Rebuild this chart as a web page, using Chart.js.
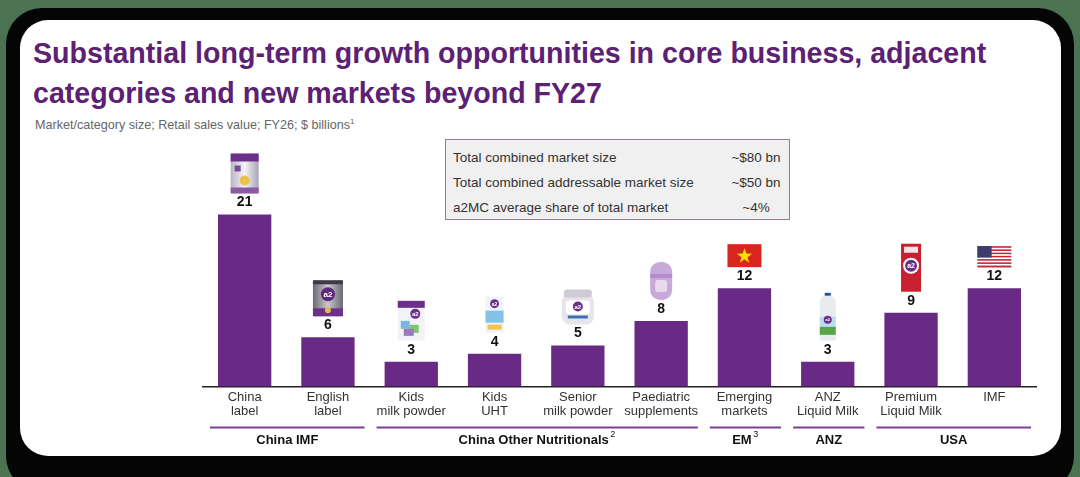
<!DOCTYPE html>
<html>
<head>
<meta charset="utf-8">
<script src="https://cdn.jsdelivr.net/npm/chart.js@4.4.1/dist/chart.umd.min.js"></script>
<style>
body{margin:0;width:1080px;height:477px;background:#4b7352;overflow:hidden;font-family:"Liberation Sans",Arial,sans-serif;position:relative}
.frame{position:absolute;left:6px;top:8px;width:1068px;height:484px;background:#050505;border-radius:36px}
.card{position:absolute;left:20px;top:20px;width:1041px;height:436px;background:#fff;border-radius:28px}
h1{position:absolute;left:33px;top:33px;margin:0;font-size:28.6px;line-height:40px;color:#5c2173;font-weight:bold;white-space:nowrap}
.sub{position:absolute;left:35px;top:117px;font-size:12.6px;color:#666}
.sub sup{font-size:8px}
.box{position:absolute;left:445px;top:139px;width:345px;height:81px;background:#f0f0f0;border:1.5px solid #9a77a8;box-sizing:border-box;font-size:13.5px;color:#333}
.row{position:absolute;left:7px;height:20px;line-height:20px;width:330px}
.row span{position:absolute;left:265px;width:76px;text-align:center}
#wrap{position:absolute;left:0;top:0;width:1080px;height:477px}
</style>
</head>
<body>
<div class="frame"></div>
<div class="card"></div>
<h1>Substantial long-term growth opportunities in core business, adjacent<br>categories and new markets beyond FY27</h1>
<div class="sub">Market/category size; Retail sales value; FY26; $ billions<sup>1</sup></div>
<div class="box">
  <div class="row" style="top:8px">Total combined market size<span>~$80 bn</span></div>
  <div class="row" style="top:33px">Total combined addressable market size<span>~$50 bn</span></div>
  <div class="row" style="top:58px">a2MC average share of total market<span>~4%</span></div>
</div>
<div id="wrap"><canvas id="chart"></canvas></div>
<script>
// categories and values ($ billions)
const categories = [
    ["China", "label"], ["English", "label"], ["Kids", "milk powder"], ["Kids", "UHT"],
    ["Senior", "milk powder"], ["Paediatric", "supplements"], ["Emerging", "markets"],
    ["ANZ", "Liquid Milk"], ["Premium", "Liquid Milk"], ["IMF"]
];
const marketSize = [21, 6, 3, 4, 5, 8, 12, 3, 9, 12];

// groups under the axis (first / last category index)
const groupNames = ["China IMF", "China Other Nutritionals", "EM", "ANZ", "USA"];
const groupNotes = ["", "2", "3", "", ""];
const groupFrom = [0, 2, 6, 7, 8];
const groupTo = [1, 5, 6, 7, 9];

// little product pictures above each bar
const icons = ["canPurple", "canSilver", "canKids", "boxUHT", "tub", "capsule", "flagVN", "bottle", "carton", "flagUS"];

const purple = "#682a85";
const FONT = "'Liberation Sans', Arial, sans-serif";

function rr(ctx, x, y, w, h, r) {
    ctx.beginPath();
    ctx.roundRect(x, y, w, h, r);
}

function star(ctx, cx, cy, r) {
    ctx.beginPath();
    for (let i = 0; i < 10; i++) {
        const a = -Math.PI / 2 + i * Math.PI / 5;
        const rad = i % 2 === 0 ? r : r * 0.4;
        ctx.lineTo(cx + rad * Math.cos(a), cy + rad * Math.sin(a));
    }
    ctx.closePath();
    ctx.fill();
}

function a2Badge(ctx, cx, cy, r, bg, fg) {
    ctx.fillStyle = bg;
    ctx.beginPath(); ctx.arc(cx, cy, r, 0, Math.PI * 2); ctx.fill();
    ctx.fillStyle = fg;
    ctx.font = "bold " + Math.round(r * 1.1) + "px " + FONT;
    ctx.textAlign = "center"; ctx.textBaseline = "middle";
    ctx.fillText("a2", cx, cy + 0.5);
}

// draw one icon; (x, b) = centre x and bottom y
function drawIcon(ctx, type, x, b) {
    ctx.save();
    if (type === "canPurple") {
        const w = 28, h = 40, l = x - w / 2, t = b - h;
        const g = ctx.createLinearGradient(l, 0, l + w, 0);
        g.addColorStop(0, "#b9b4c4"); g.addColorStop(0.5, "#f4f2f6"); g.addColorStop(1, "#a9a3b6");
        ctx.fillStyle = g; rr(ctx, l, t, w, h, 2); ctx.fill();
        ctx.fillStyle = "#6d2f8c"; ctx.fillRect(l, t, w, 8);
        ctx.fillStyle = "#8a5aa3"; ctx.fillRect(l, b - 6, w, 6);
        ctx.fillStyle = "#e9c24a"; ctx.beginPath(); ctx.arc(x, b - 13, 5, 0, Math.PI * 2); ctx.fill();
        ctx.fillStyle = "#7c4a96"; ctx.fillRect(l + 4, t + 12, 6, 6);
    } else if (type === "canSilver") {
        const w = 30, h = 36, l = x - w / 2, t = b - h;
        const g = ctx.createLinearGradient(l, 0, l + w, 0);
        g.addColorStop(0, "#6d6b72"); g.addColorStop(0.5, "#c9c8cc"); g.addColorStop(1, "#6b6970");
        ctx.fillStyle = g; rr(ctx, l, t, w, h, 2); ctx.fill();
        ctx.fillStyle = "#3f3a45"; ctx.fillRect(l, t, w, 4);
        ctx.fillStyle = "#6d2f8c"; ctx.fillRect(l, b - 8, w, 8);
        a2Badge(ctx, x, t + 14, 7, "#5d2a7c", "#fff");
        ctx.fillStyle = "#e1b94a"; ctx.beginPath(); ctx.arc(x, b - 6, 3, 0, Math.PI * 2); ctx.fill();
    } else if (type === "canKids") {
        const w = 27, h = 40, l = x - w / 2, t = b - h;
        ctx.fillStyle = "#f3f2f6"; rr(ctx, l, t, w, h, 2); ctx.fill();
        ctx.fillStyle = "#6d2f8c"; ctx.fillRect(l, t, w, 7);
        ctx.fillStyle = "#79b7e0"; ctx.fillRect(l + 3, t + 20, 9, 8);
        ctx.fillStyle = "#7fc46e"; ctx.fillRect(l + 12, t + 24, 9, 8);
        ctx.fillStyle = "#9a78b9"; ctx.fillRect(l + 6, t + 28, 10, 7);
        a2Badge(ctx, x + 4, t + 13, 5, "#6d2f8c", "#fff");
    } else if (type === "boxUHT") {
        const w = 18, h = 36, l = x - w / 2, t = b - h;
        ctx.fillStyle = "#eef4fa"; ctx.fillRect(l, t, w, h);
        ctx.fillStyle = "#83c1e6"; ctx.fillRect(l, t + 14, w, 12);
        ctx.fillStyle = "#f1c44d"; ctx.fillRect(l + 2, b - 8, w - 4, 5);
        a2Badge(ctx, x, t + 7, 4.5, "#6d2f8c", "#fff");
    } else if (type === "tub") {
        const w = 32, h = 35, l = x - w / 2, t = b - h;
        ctx.fillStyle = "#e7e5ea"; rr(ctx, l, t + 4, w, h - 4, 8); ctx.fill();
        ctx.fillStyle = "#cfcbd6"; rr(ctx, l + 2, t, w - 4, 8, 3); ctx.fill();
        ctx.fillStyle = "#ffffff"; rr(ctx, l + 4, t + 11, w - 8, 14, 4); ctx.fill();
        a2Badge(ctx, x, t + 17, 5, "#6d2f8c", "#fff");
        ctx.fillStyle = "#3c6fb5"; ctx.fillRect(l + 6, t + 26, w - 12, 3);
    } else if (type === "capsule") {
        const w = 22, h = 38, l = x - w / 2, t = b - h;
        ctx.fillStyle = "#c8a9d9"; rr(ctx, l, t, w, h, 10); ctx.fill();
        ctx.fillStyle = "#b48ccb"; ctx.fillRect(l, t + 12, w, 4);
        ctx.fillStyle = "#e8d9f0"; rr(ctx, l + 5, t + 18, w - 10, 12, 3); ctx.fill();
    } else if (type === "flagVN") {
        const w = 34, h = 23, l = x - w / 2, t = b - h;
        ctx.fillStyle = "#d8251d"; ctx.fillRect(l, t, w, h);
        ctx.fillStyle = "#ffdf00"; star(ctx, x, t + h / 2 + 0.5, 8);
    } else if (type === "flagUS") {
        const w = 34, h = 21, l = x - w / 2, t = b - h;
        for (let i = 0; i < 13; i++) {
            ctx.fillStyle = i % 2 === 0 ? "#c3283b" : "#ffffff";
            ctx.fillRect(l, t + i * h / 13, w, h / 13 + 0.3);
        }
        ctx.fillStyle = "#3b3b6d"; ctx.fillRect(l, t, w * 0.42, h * 7 / 13);
    } else if (type === "bottle") {
        const w = 16, h = 48, l = x - w / 2, t = b - h;
        ctx.fillStyle = "#0e5a9c"; ctx.fillRect(x - 3, t, 6, 3);
        ctx.fillStyle = "#e8ecee"; rr(ctx, l, t + 3, w, h - 3, [6, 6, 2, 2]); ctx.fill();
        ctx.fillStyle = "#b9dcef"; ctx.fillRect(l, t + 24, w, 10);
        ctx.fillStyle = "#5aa34a"; ctx.fillRect(l, t + 34, w, 8);
        a2Badge(ctx, x, t + 27, 4, "#6d2f8c", "#fff");
    } else if (type === "carton") {
        const w = 20, h = 48, l = x - w / 2, t = b - h;
        ctx.fillStyle = "#c8202f"; ctx.fillRect(l, t, w, h);
        ctx.fillStyle = "#f1e3e6"; ctx.fillRect(l + 3, t + 3, w - 6, 6);
        ctx.fillStyle = "#fff"; ctx.beginPath(); ctx.arc(x, t + 22, 8, 0, Math.PI * 2); ctx.fill();
        a2Badge(ctx, x, t + 22, 6, "#6d2f8c", "#fff");
    }
    ctx.restore();
}

const topLabels = {
    id: "topLabels",
    afterDatasetsDraw(chart) {
        const ctx = chart.ctx;
        const meta = chart.getDatasetMeta(0);
        meta.data.forEach((bar, i) => {
            const labelY = bar.y - 12;
            ctx.save();
            ctx.fillStyle = "#111";
            ctx.font = "bold 14px " + FONT;
            ctx.textAlign = "center";
            ctx.textBaseline = "middle";
            ctx.fillText(marketSize[i], bar.x, labelY);
            ctx.restore();
            drawIcon(ctx, icons[i], bar.x, labelY - 9);
        });
    }
};

const groupAxis = {
    id: "groupAxis",
    afterDraw(chart) {
        const ctx = chart.ctx;
        const x = chart.scales.x;
        const half = (x.getPixelForValue(1) - x.getPixelForValue(0)) / 2;
        const lineY = chart.chartArea.bottom + 41;
        ctx.save();
        groupNames.forEach((name, g) => {
            const left = x.getPixelForValue(groupFrom[g]) - half + 7;
            const right = x.getPixelForValue(groupTo[g]) + half - 5;
            ctx.strokeStyle = "#7b3f93";
            ctx.lineWidth = 2;
            ctx.beginPath();
            ctx.moveTo(left, lineY);
            ctx.lineTo(right, lineY);
            ctx.stroke();

            ctx.font = "bold 13px " + FONT;
            const w = ctx.measureText(name).width;
            ctx.font = "9px " + FONT;
            const nw = groupNotes[g] ? ctx.measureText(groupNotes[g]).width + 2 : 0;
            const start = (left + right) / 2 - (w + nw) / 2;
            ctx.fillStyle = "#111";
            ctx.textAlign = "left";
            ctx.textBaseline = "middle";
            ctx.font = "bold 13px " + FONT;
            ctx.fillText(name, start, lineY + 13);
            if (groupNotes[g]) {
                ctx.font = "9px " + FONT;
                ctx.fillText(groupNotes[g], start + w + 1.5, lineY + 7);
            }
        });
        ctx.restore();
    }
};

new Chart(document.getElementById("chart"), {
    type: "bar",
    data: {
        labels: categories,
        datasets: [{
            data: marketSize,
            backgroundColor: purple,
            borderWidth: 0,
            categoryPercentage: 1,
            barPercentage: 0.64
        }]
    },
    options: {
        responsive: true,
        maintainAspectRatio: false,
        animation: false,
        layout: {
            padding: { left: 203, right: 44, top: 149, bottom: 54 }
        },
        plugins: {
            legend: { display: false },
            tooltip: { enabled: false }
        },
        scales: {
            x: {
                grid: { display: false, drawTicks: false },
                border: { display: true, color: "#222", width: 1.5 },
                ticks: {
                    color: "#333",
                    padding: 4,
                    maxRotation: 0,
                    autoSkip: false,
                    font: { family: FONT, size: 13, lineHeight: 1.1 }
                }
            },
            y: {
                display: false,
                min: 0,
                max: 29
            }
        }
    },
    plugins: [topLabels, groupAxis]
});
</script>
</body>
</html>
